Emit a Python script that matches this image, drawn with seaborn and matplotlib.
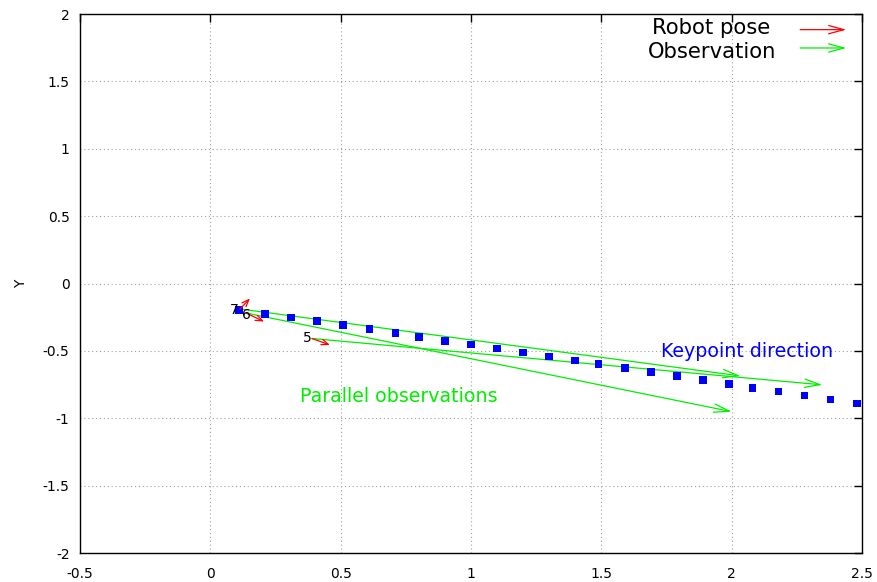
import matplotlib
matplotlib.use("Agg")
import matplotlib.pyplot as plt
import seaborn as sns
import pandas as pd

# Keypoint direction samples
keypoint_x = [0.11, 0.21, 0.31, 0.41, 0.51, 0.61, 0.71, 0.80, 0.90, 1.00,
              1.10, 1.20, 1.30, 1.40, 1.49, 1.59, 1.69, 1.79, 1.89, 1.99,
              2.08, 2.18, 2.28, 2.38, 2.48]
keypoint_y = [-0.196, -0.225, -0.252, -0.280, -0.309, -0.339, -0.369, -0.399,
              -0.426, -0.453, -0.483, -0.512, -0.542, -0.572, -0.599, -0.629,
              -0.658, -0.688, -0.718, -0.745, -0.775, -0.802, -0.832, -0.861,
              -0.889]

# Robot poses: id, position and heading vector
pose_id = ["7", "6", "5"]
pose_x = [0.114, 0.137, 0.390]
pose_y = [-0.189, -0.219, -0.408]
pose_dx = [0.038, 0.069, 0.069]
pose_dy = [0.078, -0.063, -0.048]

# Observation ray end points (one per pose)
obs_end_x = [2.034, 2.000, 2.348]
obs_end_y = [-0.686, -0.951, -0.752]

x_ticks = [-0.5, 0, 0.5, 1, 1.5, 2, 2.5]
y_ticks = [-2, -1.5, -1, -0.5, 0, 0.5, 1, 1.5, 2]

sns.set_style("white")
plt.rcParams["font.family"] = ["DejaVu Sans"]
plt.rcParams["text.color"] = "black"
plt.rcParams["axes.labelcolor"] = "black"
plt.rcParams["xtick.color"] = "black"
plt.rcParams["ytick.color"] = "black"

fig = plt.figure(figsize=(8.78, 5.82), dpi=100)
ax = fig.add_axes([0.0911, 0.0498, 0.8906, 0.9261])

kp = pd.DataFrame({"x": keypoint_x, "y": keypoint_y})
sns.scatterplot(data=kp, x="x", y="y", marker="s", s=30, color="#0000ff",
                edgecolor="none", ax=ax, zorder=3, clip_on=False)

green = "#00ee00"
red = "#ff0000"
obs_style = "->,head_length=1.1,head_width=0.3"
pose_style = "->,head_length=0.5,head_width=0.2"

for px, py, ex, ey in zip(pose_x, pose_y, obs_end_x, obs_end_y):
    ax.annotate("", xy=(ex, ey), xytext=(px, py),
                arrowprops=dict(arrowstyle=obs_style, color=green, lw=0.9,
                                shrinkA=0, shrinkB=0, mutation_scale=10),
                zorder=2)

for pid, px, py, dx, dy in zip(pose_id, pose_x, pose_y, pose_dx, pose_dy):
    ax.annotate("", xy=(px + dx, py + dy), xytext=(px, py),
                arrowprops=dict(arrowstyle=pose_style, color=red, lw=0.9,
                                shrinkA=0, shrinkB=0, mutation_scale=10),
                zorder=4)

label_off = {"7": (-0.022, -0.008), "6": (0.0, -0.012), "5": (-0.018, 0.006)}
for pid, px, py in zip(pose_id, pose_x, pose_y):
    ox, oy = label_off[pid]
    ax.text(px + ox, py + oy, pid, fontsize=10, color="black",
            ha="center", va="center", zorder=5)

ax.text(2.061, -0.505, "Keypoint direction", color="#0000ff", fontsize=13.7,
        ha="center", va="center")
ax.text(0.724, -0.839, "Parallel observations", color=green, fontsize=13.7,
        ha="center", va="center")

# Key in the upper right corner
ax.text(0.807, 0.974, "Robot pose", transform=ax.transAxes, fontsize=15.2,
        ha="center", va="center", color="black")
ax.text(0.808, 0.929, "Observation", transform=ax.transAxes, fontsize=15.2,
        ha="center", va="center", color="black")
ax.annotate("", xy=(0.980, 0.971), xytext=(0.921, 0.971),
            xycoords="axes fraction", textcoords="axes fraction",
            arrowprops=dict(arrowstyle=obs_style, color=red, lw=0.9,
                            shrinkA=0, shrinkB=0, mutation_scale=10))
ax.annotate("", xy=(0.980, 0.937), xytext=(0.921, 0.937),
            xycoords="axes fraction", textcoords="axes fraction",
            arrowprops=dict(arrowstyle=obs_style, color=green, lw=0.9,
                            shrinkA=0, shrinkB=0, mutation_scale=10))

ax.set_xlim(-0.5, 2.5)
ax.set_ylim(-2, 2)
ax.set_xticks(x_ticks)
ax.set_yticks(y_ticks)
ax.set_xticklabels([f"{v:g}" for v in x_ticks])
ax.set_yticklabels([f"{v:g}" for v in y_ticks])
ax.set_xlabel("")
ax.set_ylabel("Y", fontsize=10, color="black")
ax.yaxis.set_label_coords(-0.066, 0.5)

ax.grid(True, color="#a0a0a0", linestyle=(0, (1, 2.5)), linewidth=0.8)
ax.set_axisbelow(True)
ax.tick_params(direction="in", length=6, width=1, top=True, right=True,
               labelsize=10, color="black", labelcolor="black")
ax.tick_params(axis="x", pad=10)
ax.tick_params(axis="y", pad=7.5)
for sp in ax.spines.values():
    sp.set_color("black")
    sp.set_linewidth(1)

fig.savefig("out.png", dpi=100)
